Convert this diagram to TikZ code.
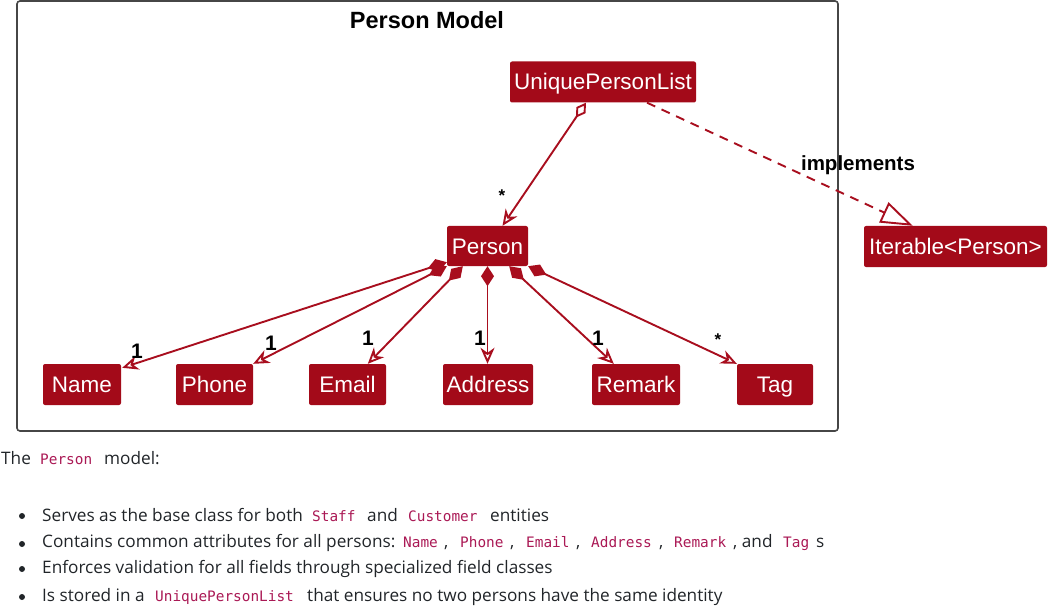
\documentclass[tikz,border=0pt]{standalone}
\usepackage{fontspec}
\setmainfont{Liberation Sans}
\newfontfamily\bodyf{Open Sans}
\newfontfamily\codef{DejaVu Sans Mono}
\usetikzlibrary{arrows.meta,calc}
\definecolor{umlred}{RGB}{163,10,25}
\definecolor{linered}{RGB}{168,14,30}
\definecolor{codecol}{RGB}{170,25,85}
\definecolor{framecol}{RGB}{70,70,70}
\definecolor{bodycol}{RGB}{33,37,41}
\begin{document}
\begin{tikzpicture}[x=1pt,y=-1pt,
  cls/.style={fill=umlred, text=white, rounded corners=2pt, minimum height=41pt, inner sep=0pt, text height=16pt, text depth=0pt, font=\fontsize{22.5}{24}\selectfont},
  mult/.style={inner sep=0pt, text=black, font=\bfseries\fontsize{21}{22}\selectfont},
  star/.style={inner sep=0pt, text=black, font=\bfseries\fontsize{17}{18}\selectfont},
  comp/.style={draw=linered, line width=1.9pt, {Diamond[length=20pt,width=13pt,fill=linered]}-{Stealth[open,length=16pt,width=14pt,inset=5pt]}},
  aggr/.style={draw=linered, line width=1.9pt, {Diamond[open,length=18pt,width=11pt,fill=white]}-{Stealth[open,length=16pt,width=14pt,inset=5pt]}},
  impl/.style={draw=linered, line width=1.9pt, dash pattern=on 9pt off 7pt, -{Triangle[open,length=32pt,width=22pt,fill=white]}},
  body/.style={anchor=base west, inner sep=0pt, text=bodycol, font=\bodyf\fontsize{17.2}{19}\selectfont},
  code/.style={anchor=base west, inner sep=0pt, text=codecol, font=\codef\fontsize{14.4}{16}\selectfont},
  bullet/.style={fill=bodycol}
]
\useasboundingbox (0,0) rectangle (1064,612);

% frame
\draw[framecol, line width=1.6pt, rounded corners=3pt] (17,1) rectangle (838,431);
\node[inner sep=0pt, font=\bfseries\fontsize{23.5}{25}\selectfont] (title) at (427,20) {Person Model};

% classes
\node[cls, minimum width=186pt] (upl) at (603,82) {UniquePersonList};
\node[cls, minimum width=81pt, minimum height=40pt] (person) at (487.5,246) {Person};
\node[cls, minimum width=183pt] (iter) at (955.5,246.5) {Iterable<Person>};
\node[cls, minimum width=78pt] (name) at (82,384.5) {Name};
\node[cls, minimum width=77pt] (phone) at (214.5,384.5) {Phone};
\node[cls, minimum width=77pt] (email) at (347.5,384.5) {Email};
\node[cls, minimum width=90pt] (address) at (488,384.5) {Address};
\node[cls, minimum width=88pt] (remark) at (636,384.5) {Remark};
\node[cls, minimum width=76pt] (tag) at (775,384.5) {Tag};

% connectors
\draw[aggr] ($(upl.south)+(-17,0)$) -- ($(person.north)+(15,0)$);
\draw[impl] ($(upl.south)+(44,0)$) -- ($(iter.north west)+(49,0)$);
\draw[comp] ($(person.south west)+(0,-4)$) -- ($(name.north east)+(1,4)$);
\draw[comp] (person.south west) -- (phone.north east);
\draw[comp] ($(person.south west)+(16,0)$) -- ($(email.north west)+(59,0)$);
\draw[comp] (person.south) -- (person.south |- address.north);
\draw[comp] ($(person.south east)+(-19,0)$) -- ($(remark.north west)+(22,0)$);
\draw[comp] (person.south east) -- (tag.north west);

% labels
\node[inner sep=0pt, font=\bfseries\fontsize{20.5}{22}\selectfont] (implab) at (858,165) {implements};
\node[star] (sagg) at (502,196) {*};
\node[mult] (m1) at (137,351) {1};
\node[mult] (m2) at (271,343) {1};
\node[mult] (m3) at (368,338) {1};
\node[mult] (m4) at (480,338) {1};
\node[mult] (m5) at (598,338) {1};
\node[star] (m6) at (718,340) {*};

% text below
\node[body] (t0a) at (1,464) {The};
\node[code] (t0b) at (40,464) {Person};
\node[body] (t0c) at (104,464) {model:};

\fill[bullet] (22,516) circle (3);
\fill[bullet] (22,544) circle (3);
\fill[bullet] (22,569) circle (3);
\fill[bullet] (22,597) circle (3);

\node[body] (t1a) at (42,521) {Serves as the base class for both};
\node[code] (t1b) at (312,521) {Staff};
\node[body] (t1c) at (367,521) {and};
\node[code] (t1d) at (408,521) {Customer};
\node[body] (t1e) at (490,521) {entities};

\node[body] (t2a) at (42,547) {Contains common attributes for all persons:};
\node[code] (t2b) at (403,547) {Name};
\node[body] (t2c) at (444,547) {,};
\node[code] (t2d) at (460,547) {Phone};
\node[body] (t2e) at (510,547) {,};
\node[code] (t2f) at (526,547) {Email};
\node[body] (t2g) at (576,547) {,};
\node[code] (t2h) at (591,547) {Address};
\node[body] (t2i) at (659,547) {,};
\node[code] (t2j) at (674,547) {Remark};
\node[body] (t2k) at (733,547) {, and};
\node[code] (t2l) at (783,547) {Tag};
\node[body] (t2m) at (816,547) {s};

\node[body] (t3a) at (42,573) {Enforces validation for all fields through specialized field classes};

\node[body] (t4a) at (42,601) {Is stored in a};
\node[code] (t4b) at (155,601) {UniquePersonList};
\node[body] (t4c) at (307,601) {that ensures no two persons have the same identity};
\end{tikzpicture}
\end{document}
